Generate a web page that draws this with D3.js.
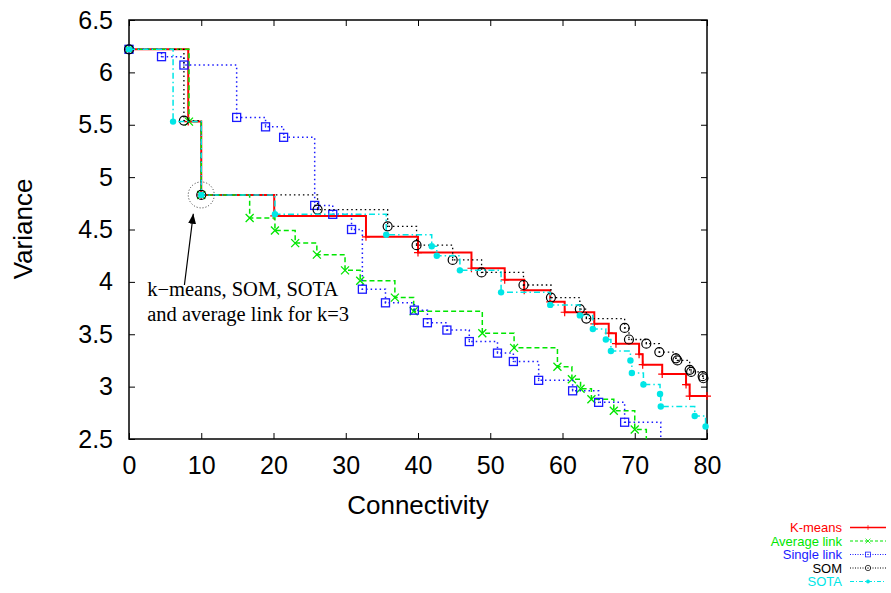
<!DOCTYPE html>
<html>
<head>
<meta charset="utf-8">
<script src="https://cdn.jsdelivr.net/npm/d3@7"></script>
<style>
  body { margin: 0; background: #fff; }
  text { font-family: 'Liberation Sans', Arial, Helvetica, sans-serif; }
</style>
</head>
<body>
<div id="chart"></div>
<script>
// axis ticks
const xTicks = [0, 10, 20, 30, 40, 50, 60, 70, 80]
const yTicks = [2.5, 3, 3.5, 4, 4.5, 5, 5.5, 6, 6.5]

// series values (connectivity, variance)
const kmeansX = [0, 8.2, 10, 20.1, 32.8, 40, 47.4, 52, 54.7, 58.3, 60.3, 64.4, 66.4, 67.4, 70.6, 71.1, 73.8, 77.1, 77.6, 80]
const kmeansY = [6.22, 5.53, 4.83, 4.63, 4.43, 4.28, 4.13, 4.02, 3.92, 3.81, 3.71, 3.60, 3.51, 3.41, 3.31, 3.21, 3.12, 3.02, 2.91, 2.91]

const avgX = [0, 8.3, 10, 16.7, 20.2, 23, 26, 29.9, 32, 36.8, 39.4, 48.9, 53.3, 59.3, 61.3, 62.5, 64, 67.1, 70, 71.6]
const avgY = [6.22, 5.53, 4.83, 4.61, 4.49, 4.37, 4.26, 4.11, 4.01, 3.85, 3.72, 3.51, 3.37, 3.19, 3.07, 2.98, 2.88, 2.77, 2.59, 2.45]

const singleX = [0, 4.5, 7.6, 14.9, 18.9, 21.4, 25.7, 28.2, 30.8, 32.3, 35.5, 39.5, 41.3, 44, 47.1, 51, 53.2, 56.7, 61.4, 65, 68.6, 73.6]
const singleY = [6.22, 6.15, 6.07, 5.57, 5.48, 5.38, 4.73, 4.645, 4.5, 3.93, 3.80, 3.73, 3.61, 3.54, 3.43, 3.32, 3.24, 3.06, 2.96, 2.85, 2.66, 2.45]

const somX = [0, 7.6, 10, 26.1, 35.8, 39.8, 44.8, 48.8, 54.6, 58.4, 62.4, 63.3, 68.6, 69.2, 71.6, 73.4, 75.7, 75.9, 77.6, 77.8, 79.4, 79.5]
const somY = [6.22, 5.54, 4.83, 4.69, 4.53, 4.35, 4.21, 4.09, 3.97, 3.85, 3.74, 3.65, 3.56, 3.45, 3.41, 3.33, 3.27, 3.25, 3.16, 3.14, 3.10, 3.08]

const sotaX = [0, 6.1, 10, 20.2, 35.6, 41.9, 42.6, 45.8, 51.5, 58.3, 62.4, 64.2, 66, 66.7, 69.4, 69.6, 71.2, 73.5, 73.6, 78.3, 79.8]
const sotaY = [6.22, 5.53, 4.83, 4.645, 4.45, 4.34, 4.25, 4.11, 3.90, 3.78, 3.68, 3.55, 3.45, 3.34, 3.25, 3.13, 3.02, 2.93, 2.81, 2.72, 2.62]

const names = ['K-means', 'Average link', 'Single link', 'SOM', 'SOTA']

const W = 891
const H = 593
const pLeft = 129, pRight = 707, pTop = 20, pBottom = 439

const svg = d3.select('#chart')
  .append('svg')
  .attr('width', W)
  .attr('height', H)

const x = d3.scaleLinear().domain([0, 80]).range([pLeft, pRight])
const y = d3.scaleLinear().domain([2.5, 6.5]).range([pBottom, pTop])

const defs = svg.append('defs')
defs.append('clipPath').attr('id', 'plot')
  .append('rect')
  .attr('x', pLeft).attr('y', pTop)
  .attr('width', pRight - pLeft).attr('height', pBottom - pTop)

// axes, ticks point inwards and are mirrored
svg.append('g')
  .attr('transform', `translate(0,${pBottom})`)
  .call(d3.axisBottom(x).tickValues(xTicks).tickSize(-6).tickPadding(17).tickFormat(d3.format('d')))
svg.append('g')
  .attr('transform', `translate(0,${pTop})`)
  .call(d3.axisTop(x).tickValues(xTicks).tickSize(-6).tickFormat(''))
svg.append('g')
  .attr('transform', `translate(${pLeft},0)`)
  .call(d3.axisLeft(y).tickValues(yTicks).tickSize(-6).tickPadding(16).tickFormat(d3.format('')))
svg.append('g')
  .attr('transform', `translate(${pRight},0)`)
  .call(d3.axisRight(y).tickValues(yTicks).tickSize(-6).tickFormat(''))

svg.selectAll('.domain').remove()
svg.selectAll('.tick line').attr('stroke', '#000').attr('stroke-width', 1)
svg.selectAll('.tick text')
  .attr('fill', '#000')
  .style('font-family', "'Liberation Sans', Arial, sans-serif")
  .style('font-size', '25px')

svg.append('rect')
  .attr('x', pLeft).attr('y', pTop)
  .attr('width', pRight - pLeft).attr('height', pBottom - pTop)
  .attr('fill', 'none')
  .attr('stroke', '#000')
  .attr('stroke-width', 1.5)

// axis titles
svg.append('text')
  .attr('x', 418).attr('y', 514)
  .attr('text-anchor', 'middle')
  .style('font-size', '26px')
  .text('Connectivity')

svg.append('text')
  .attr('transform', 'translate(32,229) rotate(-90)')
  .attr('text-anchor', 'middle')
  .style('font-size', '26px')
  .text('Variance')

// series styles
const series = [
  { xs: kmeansX, ys: kmeansY, color: '#ff0000', width: 2, dash: null, mark: 'plus' },
  { xs: avgX, ys: avgY, color: '#00e600', width: 1.5, dash: '5,3', mark: 'cross' },
  { xs: singleX, ys: singleY, color: '#1a1aff', width: 1.5, dash: '1.5,3', mark: 'square' },
  { xs: somX, ys: somY, color: '#000000', width: 1.3, dash: '1.5,3', mark: 'circle' },
  { xs: sotaX, ys: sotaY, color: '#00e6e6', width: 1.5, dash: '6,3,1.5,3', mark: 'dot' }
]
series.forEach((s, i) => {
  s.name = names[i]
  s.pts = s.xs.map((v, j) => [v, s.ys[j]])
})

function drawMark (g, kind, color, cx, cy) {
  if (kind === 'plus') {
    g.append('path')
      .attr('d', `M${cx - 4},${cy}H${cx + 4}M${cx},${cy - 4}V${cy + 4}`)
      .attr('stroke', color).attr('stroke-width', 1.2).attr('fill', 'none')
  } else if (kind === 'cross') {
    g.append('path')
      .attr('d', `M${cx - 4},${cy - 4}L${cx + 4},${cy + 4}M${cx - 4},${cy + 4}L${cx + 4},${cy - 4}`)
      .attr('stroke', color).attr('stroke-width', 1.3).attr('fill', 'none')
  } else if (kind === 'square') {
    g.append('rect')
      .attr('x', cx - 4).attr('y', cy - 4).attr('width', 8).attr('height', 8)
      .attr('stroke', color).attr('stroke-width', 1.3).attr('fill', 'none')
    g.append('circle').attr('cx', cx).attr('cy', cy).attr('r', 0.8).attr('fill', color)
  } else if (kind === 'circle') {
    g.append('circle').attr('cx', cx).attr('cy', cy).attr('r', 4.5)
      .attr('stroke', color).attr('stroke-width', 1.2).attr('fill', 'none')
    g.append('circle').attr('cx', cx).attr('cy', cy).attr('r', 0.8).attr('fill', color)
  } else {
    g.append('circle').attr('cx', cx).attr('cy', cy).attr('r', 3.2).attr('fill', color)
  }
}

const line = d3.line()
  .x((d) => x(d[0]))
  .y((d) => y(d[1]))
  .curve(d3.curveStepAfter)

const plot = svg.append('g')

series.forEach((s) => {
  plot.append('path')
    .datum(s.pts)
    .attr('clip-path', 'url(#plot)')
    .attr('d', line)
    .attr('fill', 'none')
    .attr('stroke', s.color)
    .attr('stroke-width', s.width)
    .attr('stroke-dasharray', s.dash)

  let mg = plot.append('g')
  s.pts.filter((d) => d[1] >= 2.5 && d[0] <= 80)
    .forEach((d) => drawMark(mg, s.mark, s.color, x(d[0]), y(d[1])))
})

// annotation for k=3
svg.append('circle')
  .attr('cx', x(10)).attr('cy', y(4.83)).attr('r', 13)
  .attr('fill', 'none')
  .attr('stroke', '#000')
  .attr('stroke-width', 0.8)
  .attr('stroke-dasharray', '1,2')

defs.append('marker')
  .attr('id', 'head')
  .attr('viewBox', '0 0 10 8')
  .attr('refX', 10).attr('refY', 4)
  .attr('markerWidth', 10).attr('markerHeight', 8)
  .attr('markerUnits', 'userSpaceOnUse')
  .attr('orient', 'auto')
  .append('path')
  .attr('d', 'M0,0L10,4L0,8Z')
  .attr('fill', '#000')

svg.append('line')
  .attr('x1', x(7.67)).attr('y1', y(3.97))
  .attr('x2', x(8.9)).attr('y2', y(4.65))
  .attr('stroke', '#000')
  .attr('stroke-width', 1.2)
  .attr('marker-end', 'url(#head)')

const note = svg.append('text')
  .style('font-family', "'Liberation Serif', 'Times New Roman', serif")
  .style('font-size', '20.5px')
note.append('tspan').attr('x', x(2.53)).attr('y', 296).text('k\u2212means, SOM, SOTA')
note.append('tspan').attr('x', x(2.53)).attr('y', 321).text('and average link for k=3')

// legend, bottom right outside the plot
const legend = svg.append('g')
series.forEach((s, i) => {
  let cy = 527.5 + i * 13.5
  legend.append('text')
    .attr('x', 842).attr('y', cy + 4.5)
    .attr('text-anchor', 'end')
    .attr('fill', s.color)
    .style('font-size', '13px')
    .text(s.name)
  legend.append('line')
    .attr('x1', 850).attr('x2', 886)
    .attr('y1', cy).attr('y2', cy)
    .attr('stroke', s.color)
    .attr('stroke-width', s.width === 2 ? 1.5 : 1)
    .attr('stroke-dasharray', s.dash === null ? null : (s.dash === '5,3' ? '3,2' : (s.mark === 'dot' ? '4,2,1,2' : '1,1.5')))
  let lg = legend.append('g').attr('transform', `translate(868,${cy}) scale(0.6) translate(-868,${-cy})`)
  drawMark(lg, s.mark, s.color, 868, cy)
})
</script>
</body>
</html>
